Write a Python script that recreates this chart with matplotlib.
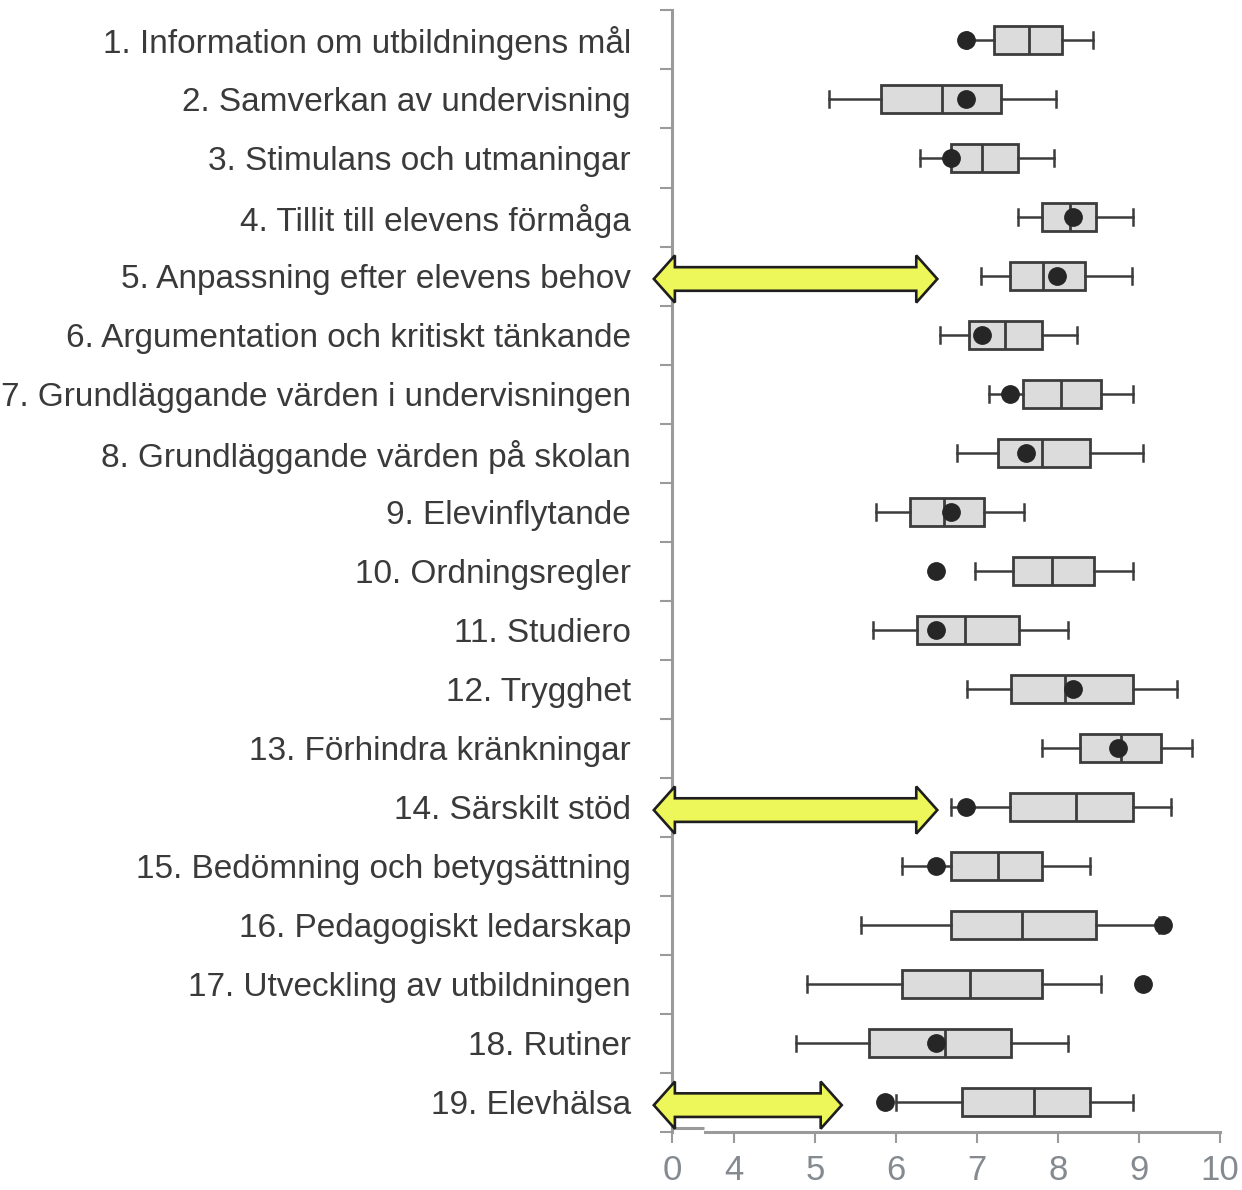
import numpy as np
import matplotlib
matplotlib.use("Agg")
import matplotlib.pyplot as plt
from matplotlib.patches import Polygon
import matplotlib.transforms as mtransforms

# Index areas (labels top to bottom)
labels = [
    "1. Information om utbildningens mål",
    "2. Samverkan av undervisning",
    "3. Stimulans och utmaningar",
    "4. Tillit till elevens förmåga",
    "5. Anpassning efter elevens behov",
    "6. Argumentation och kritiskt tänkande",
    "7. Grundläggande värden i undervisningen",
    "8. Grundläggande värden på skolan",
    "9. Elevinflytande",
    "10. Ordningsregler",
    "11. Studiero",
    "12. Trygghet",
    "13. Förhindra kränkningar",
    "14. Särskilt stöd",
    "15. Bedömning och betygsättning",
    "16. Pedagogiskt ledarskap",
    "17. Utveckling av utbildningen",
    "18. Rutiner",
    "19. Elevhälsa",
]

# Box plot statistics
whislo = [6.88, 5.17, 6.29, 7.51, 7.05, 6.54, 7.15, 6.75, 5.75, 6.97,
          5.72, 6.88, 7.80, 6.68, 6.08, 5.57, 4.90, 4.77, 6.00]
q1 = [7.21, 5.81, 6.68, 7.80, 7.41, 6.90, 7.57, 7.26, 6.17, 7.45,
      6.26, 7.42, 8.27, 7.41, 6.68, 6.68, 6.08, 5.67, 6.82]
med = [7.64, 6.57, 7.06, 8.15, 7.82, 7.35, 8.04, 7.80, 6.59, 7.93,
       6.85, 8.09, 8.78, 8.22, 7.26, 7.55, 6.91, 6.60, 7.70]
q3 = [8.05, 7.30, 7.51, 8.47, 8.33, 7.80, 8.53, 8.40, 7.09, 8.45,
      7.52, 8.92, 9.27, 8.92, 7.80, 8.47, 7.80, 7.42, 8.40]
whishi = [8.43, 7.98, 7.95, 8.92, 8.91, 8.24, 8.93, 9.05, 7.58, 8.92,
          8.12, 9.47, 9.66, 9.39, 8.40, 9.25, 8.53, 8.12, 8.92]

# The school's own result (dots)
school = [6.86, 6.86, 6.68, 8.18, 7.99, 7.06, 7.41, 7.60, 6.68, 6.49,
          6.49, 8.19, 8.74, 6.87, 6.49, 9.29, 9.05, 6.49, 5.86]

# Broken axis: first tick stands for 0
x_ticks = [3.235, 4, 5, 6, 7, 8, 9, 10]
x_ticklabels = ["0", "4", "5", "6", "7", "8", "9", "10"]

# Highlight arrows (row number, right tip)
arrow_rows = [5, 14, 19]
arrow_right = [6.51, 6.51, 5.33]
arrow_left = 3.01

TEXT = "#3a3a3a"
AXIS = "#9a9a9a"
EDGE = "#3c3c3c"

plt.rcParams["font.family"] = ["Liberation Sans", "DejaVu Sans"]

fig = plt.figure(figsize=(12.42, 11.90), dpi=100, facecolor="white")
ax = fig.add_axes([0.5411, 0.0490, 0.4412, 0.9422])

rows = np.arange(1, len(labels) + 1)
stats = []
for i in range(len(labels)):
    stats.append(dict(whislo=whislo[i], q1=q1[i], med=med[i],
                      q3=q3[i], whishi=whishi[i], fliers=[]))

ax.bxp(stats, positions=rows, orientation="horizontal", widths=0.48,
       capwidths=0.26, patch_artist=True, showfliers=False,
       boxprops=dict(facecolor="#dcdcdc", edgecolor=EDGE, linewidth=2.0),
       medianprops=dict(color=EDGE, linewidth=2.0),
       whiskerprops=dict(color=EDGE, linewidth=1.8),
       capprops=dict(color=EDGE, linewidth=1.8))

ax.plot(school, rows, "o", color="#262626", markersize=12.5, zorder=5)

# Yellow double arrows
hl = 0.26
for r, xr in zip(arrow_rows, arrow_right):
    yc = r + 0.05
    hh, sh = 0.40, 0.20
    verts = [
        (arrow_left, yc),
        (arrow_left + hl, yc - hh), (arrow_left + hl, yc - sh),
        (xr - hl, yc - sh), (xr - hl, yc - hh),
        (xr, yc),
        (xr - hl, yc + hh), (xr - hl, yc + sh),
        (arrow_left + hl, yc + sh), (arrow_left + hl, yc + hh),
    ]
    ax.add_patch(Polygon(verts, closed=True, facecolor="#eef75a",
                         edgecolor="#1e1e1e", linewidth=1.9,
                         joinstyle="miter", clip_on=False, zorder=6))

ax.set_xlim(3.235, 10.0)
ax.set_ylim(len(labels) + 0.5, 0.5)

# y: boundary ticks (major) and labels on centres (minor)
ax.set_yticks(np.arange(0.5, len(labels) + 1, 1.0))
ax.set_yticklabels([])
ax.set_yticks(rows, minor=True)
ax.set_yticklabels(labels, minor=True, fontsize=24, color=TEXT)
ax.tick_params(axis="y", which="major", direction="out", length=9,
               width=1.5, color=AXIS)
ax.tick_params(axis="y", which="minor", length=0, pad=29.5)

ax.set_xticks(x_ticks)
ax.set_xticklabels(x_ticklabels, fontsize=25, color="#858a90")
ax.tick_params(axis="x", direction="out", length=8, width=1.5,
               color=AXIS, pad=8)

for side in ["top", "right"]:
    ax.spines[side].set_visible(False)
ax.spines["left"].set_color(AXIS)
ax.spines["left"].set_linewidth(2.2)
ax.spines["bottom"].set_color(AXIS)
ax.spines["bottom"].set_linewidth(2.2)
ax.spines["bottom"].set_bounds(3.64, 10.0)

# small stepped piece at the axis break
trans = mtransforms.blended_transform_factory(ax.transData, ax.transAxes)
ax.plot([3.235, 3.63], [0.003, 0.003], color=AXIS, linewidth=2.2,
        transform=trans, clip_on=False, solid_capstyle="butt")

fig.savefig("out.png", dpi=100, facecolor="white")
